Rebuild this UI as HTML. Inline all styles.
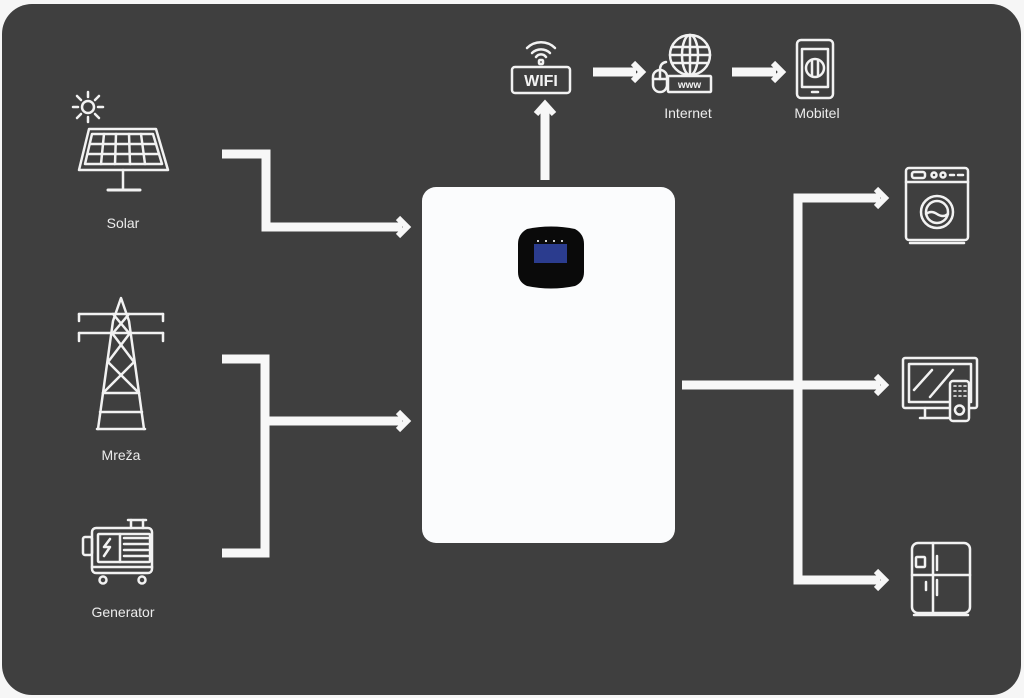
<!DOCTYPE html>
<html>
<head>
<meta charset="utf-8">
<style>
html,body{margin:0;padding:0;background:#f4f4f4;}
body{width:1024px;height:698px;overflow:hidden;}
svg{display:block;}
text{font-family:"Liberation Sans",sans-serif;}
</style>
</head>
<body>
<svg width="1024" height="698" viewBox="0 0 1024 698" xmlns="http://www.w3.org/2000/svg">
  <rect x="0" y="0" width="1024" height="698" fill="#f6f6f6"/>
  <rect x="2" y="4" width="1019" height="691" rx="30" ry="30" fill="#3f3f3f"/>

  <!-- Connectors -->
  <g fill="none" stroke="#f7f7f7" stroke-width="9" stroke-linejoin="miter" stroke-linecap="butt">
    <!-- solar -->
    <polyline points="222,154 266,154 266,227 402,227"/>
    <!-- mreza/generator bracket -->
    <polyline points="222,359 265,359 265,553 222,553"/>
    <line x1="265" y1="421" x2="402" y2="421"/>
    <!-- wifi up -->
    <line x1="545" y1="180" x2="545" y2="108"/>
    <!-- top arrows -->
    <line x1="593" y1="72" x2="636" y2="72"/>
    <line x1="732" y1="72" x2="776" y2="72"/>
    <!-- right side -->
    <line x1="682" y1="385" x2="880" y2="385"/>
    <polyline points="880,198 798,198 798,580 880,580"/>
  </g>
  <!-- arrowheads (chevrons) -->
  <g fill="none" stroke="#f7f7f7" stroke-width="6" stroke-linejoin="miter" stroke-linecap="butt">
    <polyline points="398,218 407,227 398,236"/>
    <polyline points="398,412 407,421 398,430"/>
    <polyline points="536,114 545,104 554,114"/>
    <polyline points="633,63 642,72 633,81"/>
    <polyline points="773,63 782,72 773,81"/>
    <polyline points="876,189 885,198 876,207"/>
    <polyline points="876,376 885,385 876,394"/>
    <polyline points="876,571 885,580 876,589"/>
  </g>

  <!-- Battery -->
  <rect x="422" y="187" width="253" height="356" rx="14" ry="14" fill="#fbfcfd"/>
  <path d="M527,229 Q551,224 575,229 Q584,234 584,244 L584,272 Q584,282 575,286 Q551,291 527,286 Q518,282 518,272 L518,244 Q518,234 527,229 Z" fill="#0a0a0a"/>
  <rect x="534" y="244" width="33" height="19" fill="#2b3c8e"/>
  <g fill="#cfcfcf">
    <rect x="537" y="240" width="2" height="2"/>
    <rect x="545" y="240" width="2" height="2"/>
    <rect x="553" y="240" width="2" height="2"/>
    <rect x="561" y="240" width="2" height="2"/>
  </g>

  <!-- Icons -->
  <g fill="none" stroke="#f2f2f2" stroke-width="2.5" stroke-linejoin="round" stroke-linecap="round">
    <!-- Sun -->
    <circle cx="88" cy="107" r="6"/>
    <line x1="88" y1="92" x2="88" y2="97"/>
    <line x1="88" y1="117" x2="88" y2="122"/>
    <line x1="73" y1="107" x2="78" y2="107"/>
    <line x1="98" y1="107" x2="103" y2="107"/>
    <line x1="77" y1="96" x2="81" y2="100"/>
    <line x1="95" y1="114" x2="99" y2="118"/>
    <line x1="77" y1="118" x2="81" y2="114"/>
    <line x1="95" y1="100" x2="99" y2="96"/>
    <!-- Solar panel -->
    <polygon points="89,129 156,129 168,170 79,170"/>
    <polygon points="92,134 153,134 162,164 85,164"/>
    <line x1="90" y1="144" x2="156" y2="144"/>
    <line x1="88" y1="154" x2="159" y2="154"/>
    <line x1="104" y1="134" x2="101" y2="164"/>
    <line x1="116" y1="134" x2="115" y2="164"/>
    <line x1="129" y1="134" x2="130" y2="164"/>
    <line x1="141" y1="134" x2="145" y2="164"/>
    <line x1="123" y1="170" x2="123" y2="189"/>
    <line x1="108" y1="190" x2="140" y2="190" stroke-width="3"/>

    <!-- Tower -->
    <polyline points="98,429 113,321 121,298 129,321 144,429"/>
    <line x1="97" y1="429" x2="145" y2="429"/>
    <line x1="100" y1="412" x2="142" y2="412"/>
    <line x1="103" y1="393" x2="139" y2="393"/>
    <line x1="79" y1="314" x2="163" y2="314"/>
    <line x1="79" y1="333" x2="163" y2="333"/>
    <line x1="79" y1="314" x2="79" y2="321"/>
    <line x1="163" y1="314" x2="163" y2="321"/>
    <line x1="79" y1="333" x2="79" y2="341"/>
    <line x1="163" y1="333" x2="163" y2="341"/>
    <line x1="113" y1="314" x2="129" y2="333"/>
    <line x1="129" y1="314" x2="113" y2="333"/>
    <line x1="112" y1="333" x2="134" y2="362"/>
    <line x1="130" y1="333" x2="108" y2="362"/>
    <line x1="108" y1="362" x2="139" y2="393"/>
    <line x1="134" y1="362" x2="103" y2="393"/>

    <!-- Generator -->
    <rect x="92" y="528" width="60" height="45" rx="4"/>
    <rect x="98" y="534" width="52" height="28" rx="1"/>
    <rect x="83" y="537" width="9" height="18" rx="2"/>
    <line x1="128" y1="520" x2="146" y2="520"/>
    <line x1="131" y1="520" x2="131" y2="528"/>
    <line x1="143" y1="520" x2="143" y2="528"/>
    <line x1="120" y1="534" x2="120" y2="562"/>
    <line x1="124" y1="538" x2="148" y2="538"/>
    <line x1="124" y1="544" x2="148" y2="544"/>
    <line x1="124" y1="550" x2="148" y2="550"/>
    <line x1="124" y1="556" x2="148" y2="556"/>
    <polyline points="110,539 104,547 110,547 104,556"/>
    <line x1="92" y1="567" x2="152" y2="567"/>
    <circle cx="103" cy="580" r="3.5"/>
    <circle cx="142" cy="580" r="3.5"/>

    <!-- WiFi -->
    <rect x="512" y="67" width="58" height="26" rx="3"/>
    <path d="M527,48 A20,20 0 0 1 555,48"/>
    <path d="M532,53 A13,13 0 0 1 550,53"/>
    <path d="M536,57 A6,6 0 0 1 546,57"/>
    <rect x="539" y="60" width="4" height="4" rx="1"/>

    <!-- Globe -->
    <circle cx="690" cy="55" r="20"/>
    <ellipse cx="690" cy="55" rx="8" ry="20"/>
    <line x1="690" y1="35" x2="690" y2="75"/>
    <line x1="672" y1="47" x2="708" y2="47"/>
    <line x1="670" y1="55" x2="710" y2="55"/>
    <line x1="672" y1="63" x2="708" y2="63"/>
    <rect x="668" y="76" width="43" height="16" rx="1" fill="#3f3f3f"/>
    <rect x="653" y="70" width="14" height="22" rx="7" fill="#3f3f3f"/>
    <line x1="653" y1="79" x2="667" y2="79"/>
    <line x1="660" y1="70" x2="660" y2="79"/>
    <path d="M660,70 Q660,63 666,62"/>

    <!-- Phone -->
    <rect x="797" y="40" width="36" height="58" rx="4"/>
    <rect x="802" y="49" width="26" height="38"/>
    <circle cx="815" cy="68" r="9"/>
    <line x1="812" y1="60" x2="812" y2="76"/>
    <line x1="818" y1="60" x2="818" y2="76"/>
    <line x1="812" y1="92" x2="818" y2="92"/>

    <!-- Washing machine -->
    <rect x="906" y="168" width="62" height="72" rx="3"/>
    <line x1="906" y1="182" x2="968" y2="182"/>
    <rect x="912" y="172" width="13" height="6" rx="2"/>
    <circle cx="934" cy="175" r="2.5"/>
    <circle cx="943" cy="175" r="2.5"/>
    <line x1="950" y1="175" x2="954" y2="175"/>
    <line x1="958" y1="175" x2="963" y2="175"/>
    <circle cx="937" cy="212" r="16"/>
    <circle cx="937" cy="212" r="11"/>
    <path d="M926,214 Q931,210 937,214 Q943,218 948,214"/>
    <line x1="910" y1="243" x2="964" y2="243"/>

    <!-- TV -->
    <rect x="903" y="358" width="74" height="50" rx="2"/>
    <rect x="909" y="364" width="62" height="38"/>
    <line x1="914" y1="390" x2="932" y2="370"/>
    <line x1="930" y1="397" x2="953" y2="370"/>
    <line x1="925" y1="408" x2="925" y2="418"/>
    <line x1="920" y1="418" x2="950" y2="418"/>
    <rect x="950" y="381" width="19" height="40" rx="3" fill="#3f3f3f"/>
    <circle cx="959.5" cy="410" r="4.5"/>
    <g stroke-width="1.6">
      <line x1="954" y1="386" x2="956" y2="386"/>
      <line x1="959" y1="386" x2="961" y2="386"/>
      <line x1="964" y1="386" x2="966" y2="386"/>
      <line x1="954" y1="391" x2="956" y2="391"/>
      <line x1="959" y1="391" x2="961" y2="391"/>
      <line x1="964" y1="391" x2="966" y2="391"/>
      <line x1="954" y1="396" x2="956" y2="396"/>
      <line x1="959" y1="396" x2="961" y2="396"/>
      <line x1="964" y1="396" x2="966" y2="396"/>
    </g>

    <!-- Fridge -->
    <rect x="912" y="543" width="58" height="70" rx="6"/>
    <line x1="933" y1="543" x2="933" y2="613"/>
    <line x1="912" y1="575" x2="970" y2="575"/>
    <rect x="916" y="557" width="9" height="10" rx="1"/>
    <line x1="937" y1="556" x2="937" y2="570"/>
    <line x1="937" y1="580" x2="937" y2="595"/>
    <line x1="926" y1="582" x2="926" y2="590"/>
    <line x1="914" y1="615" x2="968" y2="615"/>
  </g>

  <!-- WIFI / www text -->
  <text x="541" y="86" text-anchor="middle" font-size="16" font-weight="bold" fill="#f2f2f2">WIFI</text>
  <text x="689.5" y="88" text-anchor="middle" font-size="10" font-weight="bold" fill="#f2f2f2">www</text>

  <!-- Labels -->
  <g font-size="14" fill="#ececec" text-anchor="middle">
    <text x="123" y="228">Solar</text>
    <text x="121" y="460">Mreža</text>
    <text x="123" y="617">Generator</text>
    <text x="688" y="118">Internet</text>
    <text x="817" y="118">Mobitel</text>
  </g>
</svg>
</body>
</html>
